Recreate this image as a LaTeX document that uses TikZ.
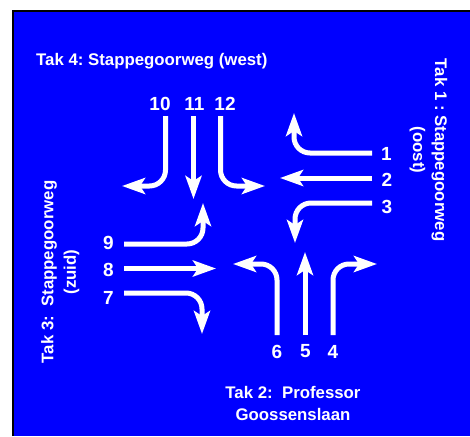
\documentclass[tikz,border=0pt]{standalone}
\usepackage{fontspec}
\setmainfont{Liberation Sans}
\usetikzlibrary{arrows.meta}
\definecolor{bg}{RGB}{0,0,255}
\frenchspacing
\begin{document}
\begin{tikzpicture}[x=1pt,y=1pt,
  lane/.style={draw=white, line width=5pt, -{Stealth[length=23pt,width=16pt,inset=5pt]}, rounded corners=16pt},
  num/.style={text=white, font=\fontsize{19}{22}\selectfont\bfseries, inner sep=0pt},
  lab/.style={text=white, font=\fontsize{16.8}{20}\selectfont\bfseries\frenchspacing, inner sep=0pt, anchor=base}]
\useasboundingbox (0,0) rectangle (470,-436);
\fill[bg] (13,-10.75) rectangle (470,-436);
\draw[black, line width=1.6pt] (13,-436) -- (13,-10.75) -- (470,-10.75);

% labels
\node[lab, anchor=base west] (t4) at (36,-65) {Tak 4: Stappegoorweg (west)};
\node[lab, rotate=-90] (t1a) at (435,-150) {Tak 1 : Stappegoorweg};
\node[lab, rotate=-90] (t1b) at (413,-150) {(oost)};
\node[lab, rotate=90] (t3a) at (53.3,-272) {Tak 3:\ \ Stappegoorweg};
\node[lab, rotate=90] (t3b) at (75.8,-272) {(zuid)};
\node[lab] (t2a) at (293,-398) {Tak 2:\ \ Professor};
\node[lab] (t2b) at (293,-420) {Goossenslaan};

% numbers
\node[num] (n10) at (160,-103.5) {10};
\node[num] (n11) at (194.5,-103.5) {11};
\node[num] (n12) at (225,-103.5) {12};
\node[num] (n1) at (386.5,-153.5) {1};
\node[num] (n2) at (387,-179.5) {2};
\node[num] (n3) at (387,-206.5) {3};
\node[num] (n9) at (108.5,-243) {9};
\node[num] (n8) at (108.5,-269.5) {8};
\node[num] (n7) at (108.5,-297.5) {7};
\node[num] (n6) at (277,-351.5) {6};
\node[num] (n5) at (305.5,-351.5) {5};
\node[num] (n4) at (333,-351.5) {4};

% lane coordinates
\coordinate (s10) at (165.5,-116); \coordinate (e10) at (122,-186);
\coordinate (s11) at (193.5,-116); \coordinate (e11) at (193.5,-199);
\coordinate (s12) at (220.5,-116); \coordinate (e12) at (265,-186);
\coordinate (s1) at (372,-153); \coordinate (e1) at (294,-113);
\coordinate (s2) at (372,-178); \coordinate (e2) at (280,-178);
\coordinate (s3) at (372,-203); \coordinate (e3) at (295,-243);
\coordinate (s9) at (124,-244); \coordinate (e9) at (203,-203);
\coordinate (s8) at (124,-268.5); \coordinate (e8) at (216,-268.5);
\coordinate (s7) at (124,-293); \coordinate (e7) at (202,-334);
\coordinate (s6) at (277,-335); \coordinate (e6) at (233,-264);
\coordinate (s5) at (305,-335); \coordinate (e5) at (305,-252);
\coordinate (s4) at (333,-335); \coordinate (e4) at (377,-264);

% lanes
\draw[lane] (s10) |- (e10);
\draw[lane] (s11) -- (e11);
\draw[lane] (s12) |- (e12);
\draw[lane] (s1) -| (e1);
\draw[lane] (s2) -- (e2);
\draw[lane] (s3) -| (e3);
\draw[lane] (s9) -| (e9);
\draw[lane] (s8) -- (e8);
\draw[lane] (s7) -| (e7);
\draw[lane] (s6) |- (e6);
\draw[lane] (s5) -- (e5);
\draw[lane] (s4) |- (e4);
\end{tikzpicture}
\end{document}
